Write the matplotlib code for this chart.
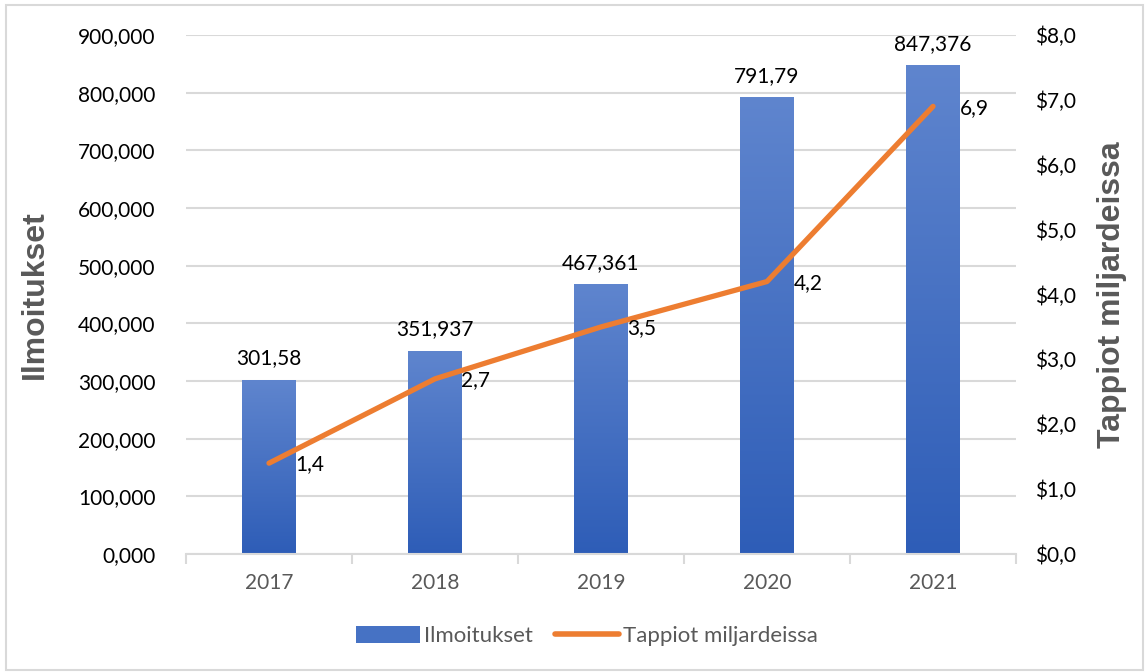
import numpy as np
import matplotlib
matplotlib.use("Agg")
import matplotlib.pyplot as plt
from matplotlib.colors import LinearSegmentedColormap
from matplotlib.patches import Rectangle, Patch
from matplotlib.lines import Line2D
from matplotlib.ticker import FuncFormatter

years = ["2017", "2018", "2019", "2020", "2021"]
ilmoitukset = [301.58, 351.937, 467.361, 791.79, 847.376]
tappiot = [1.4, 2.7, 3.5, 4.2, 6.9]
bar_labels = ["301,58", "351,937", "467,361", "791,79", "847,376"]
line_labels = ["1,4", "2,7", "3,5", "4,2", "6,9"]

plt.rcParams['font.family'] = ['Lato', 'DejaVu Sans']
grey = "#595959"
blue_top = "#5F85CE"
blue_bot = "#2E5DB7"
orange = "#ED7D31"

fig = plt.figure(figsize=(11.46, 6.72), dpi=100)
fig.patches.append(Rectangle((0.005, 0.003), 0.992, 0.99, transform=fig.transFigure,
                             fill=False, edgecolor="#D9D9D9", linewidth=1.5))

ax = fig.add_axes([0.1623, 0.1756, 0.7243, 0.7723])
ax2 = ax.twinx()

x = np.arange(len(years))
w = 0.32
bars = ax.bar(x, ilmoitukset, width=w, color=blue_bot, zorder=2)

# vertical gradient fill clipped to each bar
cmap = LinearSegmentedColormap.from_list("bg", [blue_bot, blue_top])
grad = np.linspace(0, 1, 256).reshape(-1, 1)
for b in bars:
    bx, by = b.get_x(), b.get_y()
    im = ax.imshow(grad, cmap=cmap, origin="lower", aspect="auto",
                   extent=[bx, bx + b.get_width(), by, by + b.get_height()], zorder=2.5)
    im.set_clip_path(b)

for xi, v, lab in zip(x, ilmoitukset, bar_labels):
    ax.text(xi, v + 20, lab, ha="center", va="bottom", fontsize=15, color="black")

ax.set_xlim(-0.5, len(years) - 0.5)
ax.set_ylim(0, 900)
ax.set_yticks(np.arange(0, 901, 100))
ax.yaxis.set_major_formatter(FuncFormatter(lambda v, p: f"{v:.3f}".replace(".", ",")))
ax.set_xticks(x)
ax.set_xticklabels(years)
ax.set_xticks(np.arange(-0.5, len(years)), minor=True)
ax.tick_params(axis="x", which="major", length=0, pad=14, labelsize=15, labelcolor=grey)
ax.tick_params(axis="x", which="minor", length=7, color="#D9D9D9", width=1.5)
ax.tick_params(axis="y", length=0, pad=22, labelsize=15, labelcolor="black")
ax.grid(axis="y", color="#D9D9D9", linewidth=1.5, zorder=0)
ax.set_axisbelow(True)
for s in ["top", "left", "right"]:
    ax.spines[s].set_visible(False)
ax.spines["bottom"].set_color("#D9D9D9")
ax.spines["bottom"].set_linewidth(1.5)
ax.set_ylabel("Ilmoitukset", fontsize=23, fontweight="bold", color=grey,
              family="Liberation Sans", labelpad=20)

ax2.plot(x, tappiot, color=orange, linewidth=3.8, solid_capstyle="round",
         solid_joinstyle="round", zorder=3)
for xi, v, lab in zip(x, tappiot, line_labels):
    ax2.annotate(lab, (xi, v), xytext=(19, -1), textcoords="offset points",
                 ha="left", va="center", fontsize=15, color="black")
ax2.set_ylim(0, 8)
ax2.set_yticks(np.arange(0, 8.1, 1))
ax2.yaxis.set_major_formatter(FuncFormatter(lambda v, p: "$" + f"{v:.1f}".replace(".", ",")))
ax2.tick_params(axis="y", length=0, pad=14, labelsize=15, labelcolor="black")
for s in ["top", "left", "right", "bottom"]:
    ax2.spines[s].set_visible(False)
ax2.set_ylabel("Tappiot miljardeissa", fontsize=23, fontweight="bold", color=grey,
               family="Liberation Sans", labelpad=15)

handles = [Patch(facecolor="#4672C4", edgecolor="none"),
           Line2D([0], [0], color=orange, linewidth=4, solid_capstyle="round")]
fig.legend(handles, ["Ilmoitukset", "Tappiot miljardeissa"], loc="center",
           bbox_to_anchor=(0.512, 0.053), ncol=2, frameon=False, fontsize=16,
           labelcolor=grey, handlelength=2.9, handleheight=0.8, handletextpad=0.15,
           columnspacing=1.0)

fig.savefig("out.png", dpi=100)
